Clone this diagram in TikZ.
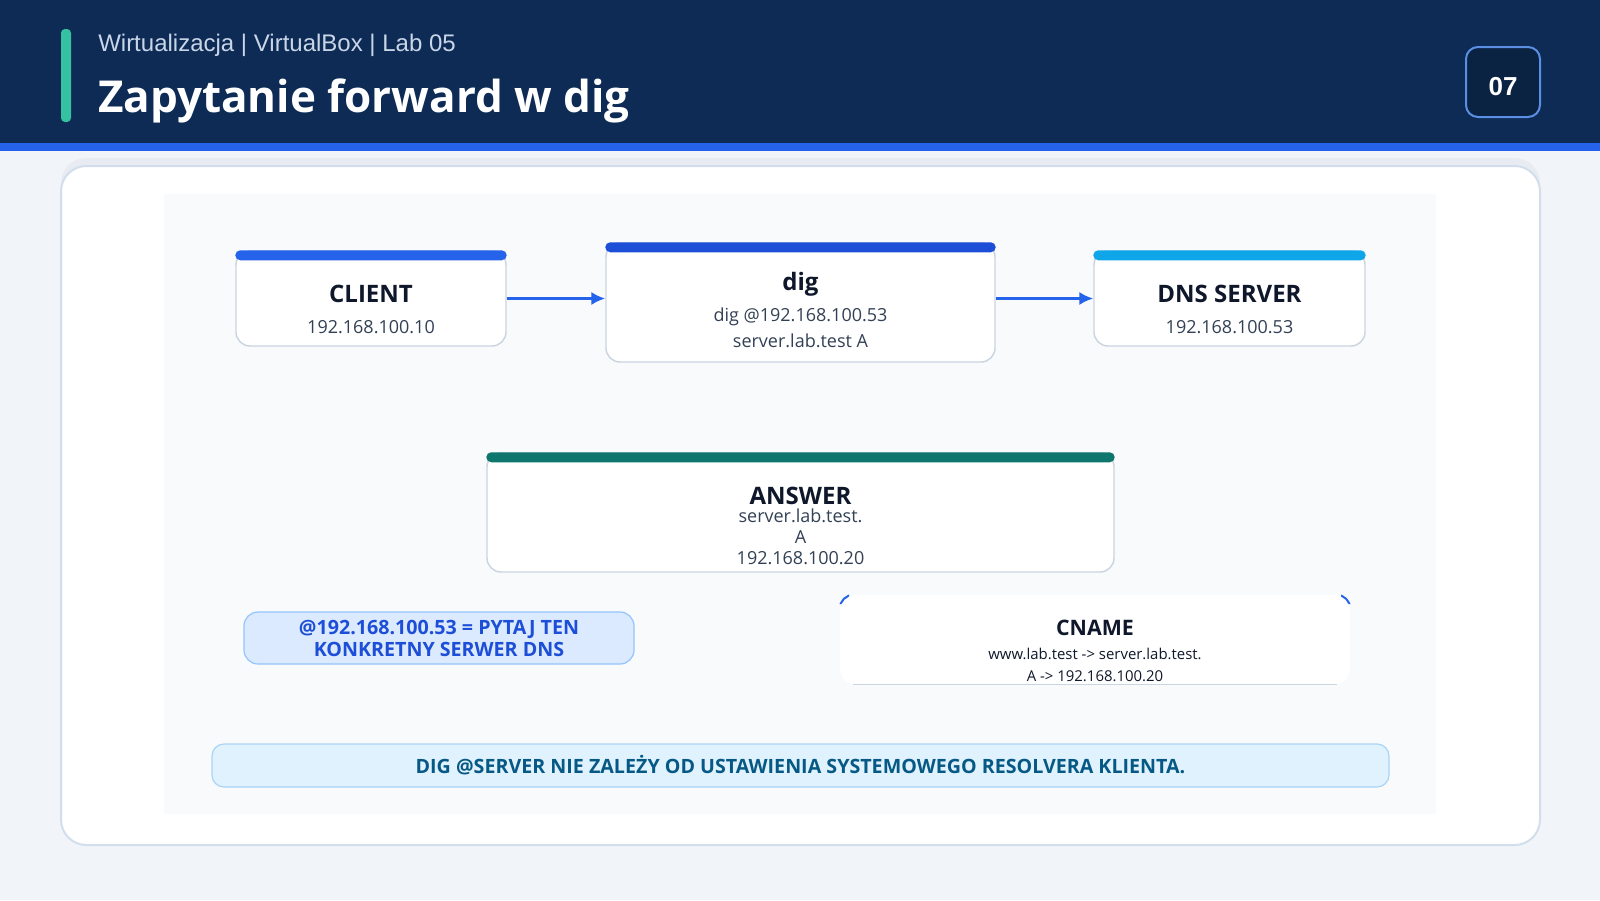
\documentclass[tikz,border=0pt]{standalone}
\usepackage{fontspec}
\setmainfont{Open Sans}
\newfontfamily\headfont{Liberation Sans}
\usetikzlibrary{arrows.meta}

\definecolor{pagebg}{HTML}{F1F5F9}
\definecolor{navy}{HTML}{0D2B55}
\definecolor{stripe}{HTML}{2563EB}
\definecolor{accent}{HTML}{36C2A0}
\definecolor{subtle}{HTML}{C9D6E8}
\definecolor{pagefill}{HTML}{0A2343}
\definecolor{pageline}{HTML}{5B8FE3}
\definecolor{cardshadow}{HTML}{E8ECF2}
\definecolor{cardline}{HTML}{D3DEEC}
\definecolor{panel}{HTML}{F8FAFC}
\definecolor{boxline}{HTML}{CBD5E1}
\definecolor{ink}{HTML}{0F172A}
\definecolor{slate}{HTML}{334155}
\definecolor{barclient}{HTML}{2563EB}
\definecolor{bardig}{HTML}{1D4ED8}
\definecolor{bardns}{HTML}{0EA5E9}
\definecolor{baranswer}{HTML}{0F766E}
\definecolor{notefill}{HTML}{DBEAFE}
\definecolor{noteline}{HTML}{93C5FD}
\definecolor{notetext}{HTML}{1D4ED8}
\definecolor{bannerfill}{HTML}{E0F2FE}
\definecolor{bannerline}{HTML}{A9D4F5}
\definecolor{bannertext}{HTML}{075985}

\begin{document}
\begin{tikzpicture}
      [x=0.75pt,y=-0.75pt,line join=round,
       card/.style={draw=boxline,fill=white,line width=1.1pt,rounded corners=10.5pt,inner sep=0pt},
       bar/.style={rounded corners=3.75pt},
       boxtitle/.style={text=ink,inner sep=0pt,font=\bfseries\fontsize{18}{22}\selectfont},
       boxdetail/.style={text=slate,inner sep=0pt,align=center,font=\fontsize{13.5}{19.5}\selectfont},
       flow/.style={draw=stripe,line width=2.2pt,-{Latex[length=10.5pt,width=10pt]}}]

%page and header
  \useasboundingbox (0,0) rectangle (1600,900);
  \fill[pagebg] (0,0) rectangle (1600,900);
  \fill[navy] (0,0) rectangle (1600,143);
  \fill[stripe] (0,143) rectangle (1600,151);
  \fill[accent,rounded corners=3pt] (61,29) rectangle (71,122);
  \node[anchor=base west,inner sep=0pt,text=subtle,font=\headfont\fontsize{18}{20}\selectfont] (kicker) at (98,51) {Wirtualizacja | VirtualBox | Lab 05};
  \node[anchor=base west,inner sep=0pt,text=white,font=\bfseries\fontsize{33}{36}\selectfont] (heading) at (98,112) {Zapytanie forward w dig};
  \node[draw=pageline,fill=pagefill,line width=1.5pt,rounded corners=9pt,minimum width=55.5pt,minimum height=52.5pt] (pagebox) at (1503,82) {};
  \node[text=white,font=\headfont\bfseries\fontsize{19.5}{22}\selectfont] (pageno) at (1503,87) {07};

%card and panel
  \fill[cardshadow,rounded corners=19pt] (61,158) rectangle (1540,845);
  \draw[cardline,fill=white,line width=1.5pt,rounded corners=19pt] (61,166) rectangle (1540,845);
  \fill[panel] (164,194) rectangle (1436,814);

%query row
  \node[card,minimum width=202.5pt,minimum height=71.25pt] (client) at (371,298.5) {};
  \fill[barclient,bar] (client.north west) rectangle ([yshift=-7.5pt]client.north east);
  \node[boxtitle] (clientT) at (371,294) {CLIENT};
  \node[boxdetail] (clientD) at (371,327) {192.168.100.10};

  \node[card,minimum width=291.75pt,minimum height=89.25pt] (dig) at (800.5,302.5) {};
  \fill[bardig,bar] (dig.north west) rectangle ([yshift=-7.5pt]dig.north east);
  \node[boxtitle] (digT) at (800.5,284) {dig};
  \node[boxdetail] (digD) at (800.5,328) {dig @192.168.100.53\\server.lab.test A};

  \node[card,minimum width=203.25pt,minimum height=71.25pt] (dns) at (1229.5,298.5) {};
  \fill[bardns,bar] (dns.north west) rectangle ([yshift=-7.5pt]dns.north east);
  \node[boxtitle] (dnsT) at (1229.5,294) {DNS SERVER};
  \node[boxdetail] (dnsD) at (1229.5,327) {192.168.100.53};

  \draw[flow] (client.east) -- (client.east -| dig.west);
  \draw[flow] (dig.east |- dns.west) -- (dns.west);

%answer
  \node[card,minimum width=470.25pt,minimum height=89.25pt] (answer) at (800.5,512.5) {};
  \fill[baranswer,bar] (answer.north west) rectangle ([yshift=-7.5pt]answer.north east);
  \node[boxtitle] (answerT) at (800.5,496) {ANSWER};
  \node[boxdetail,font=\fontsize{13.5}{15.75}\selectfont] (answerD) at (800.5,537) {server.lab.test.\\A\\192.168.100.20};

%notes
  \node[draw=noteline,fill=notefill,line width=0.9pt,rounded corners=10.5pt,minimum width=292.5pt,minimum height=39pt,
        align=center,text=notetext,font=\bfseries\fontsize{14.75}{16.5}\selectfont] (note) at (439,638)
        {@192.168.100.53 = PYTAJ TEN\\KONKRETNY SERWER DNS};

  \node[fill=white,rounded corners=10.5pt,minimum width=382.5pt,minimum height=66.75pt] (cname) at (1095,639.5) {};
  \begin{scope}
    \clip (830,590) rectangle (849,604) (1341,590) rectangle (1360,604);
    \draw[barclient,line width=1.5pt,rounded corners=10.5pt] (cname.north west) rectangle (cname.south east);
  \end{scope}
  \draw[boxline,line width=0.8pt] ([xshift=10pt]cname.south west) -- ([xshift=-10pt]cname.south east);
  \node[boxtitle,font=\bfseries\fontsize{16}{20}\selectfont] (cnameT) at (1095,628) {CNAME};
  \node[boxdetail,text=ink,font=\fontsize{11.2}{16.5}\selectfont] (cnameD) at (1095,665) {www.lab.test -> server.lab.test.\\A -> 192.168.100.20};

  \node[draw=bannerline,fill=bannerfill,line width=0.9pt,rounded corners=9pt,minimum width=882.75pt,minimum height=32.25pt,
        text=bannertext,font=\bfseries\fontsize{14.75}{16}\selectfont] (banner) at (800.5,765.5)
        {DIG @SERVER NIE ZALEŻY OD USTAWIENIA SYSTEMOWEGO RESOLVERA KLIENTA.};

\end{tikzpicture}
\end{document}
